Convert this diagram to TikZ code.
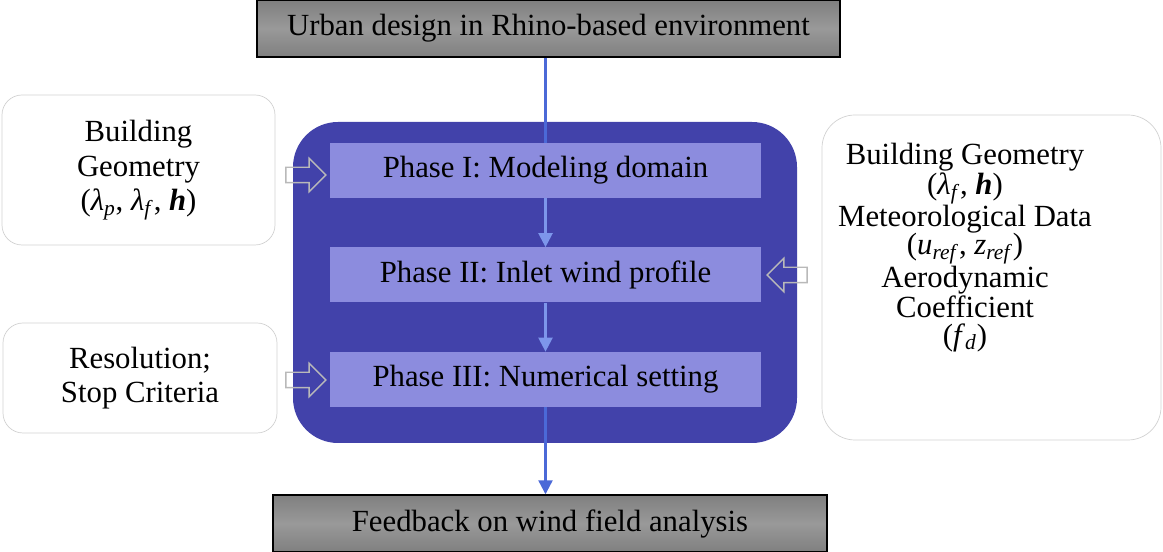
\documentclass[tikz,border=0pt]{standalone}
\usepackage{fontspec}
\setmainfont{Liberation Serif}
\usetikzlibrary{shapes.arrows,arrows.meta}
\definecolor{panelblue}{RGB}{66,66,170}
\definecolor{phasefill}{RGB}{140,140,222}
\definecolor{flowblue}{RGB}{75,105,215}
\definecolor{flowlight}{RGB}{125,150,235}
\newcommand{\lsub}[2]{\textit{#1}\textsubscript{\textit{#2}}}

\begin{document}
\begin{tikzpicture}[
    bar/.style={draw=black,line width=0.8pt,top color=black!50,bottom color=black!50,middle color=black!40,
      minimum width=#1,minimum height=1.14cm,inner sep=0pt,font=\fontsize{17.5}{20}\selectfont},
    phase/.style={fill=phasefill,minimum width=8.62cm,minimum height=1.1cm,inner sep=0pt,
      font=\fontsize{17.5}{20}\selectfont},
    side/.style={draw=gray!35,fill=white,rounded corners=0.4cm,inner sep=0pt},
    blockarrow/.style={single arrow,draw=gray!55,line width=0.8pt,fill=none,inner sep=0.14cm,
      minimum height=0.8cm,single arrow head extend=0.18cm},
    flow/.style={draw=flowblue,line width=1.3pt},
    tip/.style={-{Triangle[length=0.28cm,width=0.28cm]}}
  ]
    \useasboundingbox (0,0) rectangle (23.26,-11.04);

    % Rahmen
    \node[bar=11.66cm] (urban) at (10.97,-0.57) {Urban design in Rhino-based environment};
    \node[bar=11.08cm] (feedback) at (11.0,-10.47) {Feedback on wind field analysis};

    \fill[panelblue,rounded corners=0.9cm] (5.86,-2.44) rectangle (15.94,-8.86);

    \node[phase] (ph1) at (10.91,-3.41) {Phase I: Modeling domain};
    \node[phase] (ph2) at (10.91,-5.5) {Phase II: Inlet wind profile};
    \node[phase] (ph3) at (10.91,-7.59) {Phase III: Numerical setting};

    % Eingaben
    \node[side,minimum width=5.46cm,minimum height=3cm,align=center,
      font=\fontsize{17.5}{19.6}\selectfont] (geo) at (2.77,-3.4)
      {Building\\Geometry\\(\lsub{λ}{p}, \lsub{λ}{f}, \textbf{\textit{h}})};
    \node[side,minimum width=5.48cm,minimum height=2.2cm,align=center,
      font=\fontsize{17.5}{19.6}\selectfont] (res) at (2.8,-7.56)
      {Resolution;\\Stop Criteria};
    \node[side,rounded corners=0.66cm,minimum width=6.78cm,minimum height=6.5cm] (metbox) at (19.83,-5.55) {};
    \node[align=center,inner sep=0pt,font=\fontsize{17.5}{16}\selectfont] (met) at (19.3,-4.95)
      {Building Geometry\\(\lsub{λ}{f}, \textbf{\textit{h}})\\Meteorological Data\\
       (\lsub{u}{ref}, \lsub{z}{ref})\\Aerodynamic\\Coefficient\\(\lsub{f}{d})};

    \node[blockarrow] (in1) at (6.04,-3.5) {};
    \node[blockarrow] (in2) at (6.04,-7.6) {};
    \node[blockarrow,shape border rotate=180] (in3) at (15.82,-5.5) {};

    % Ablauf
    \draw[flow] (urban.south -| ph1.north) -- (ph1.north);
    \draw[flow,draw=flowlight,tip] (ph1.south) -- (ph2.north);
    \draw[flow,draw=flowlight,tip] (ph2.south) -- (ph3.north);
    \draw[flow,tip] (ph3.south) -- (ph3.south |- feedback.north);

  \end{tikzpicture}
\end{document}
